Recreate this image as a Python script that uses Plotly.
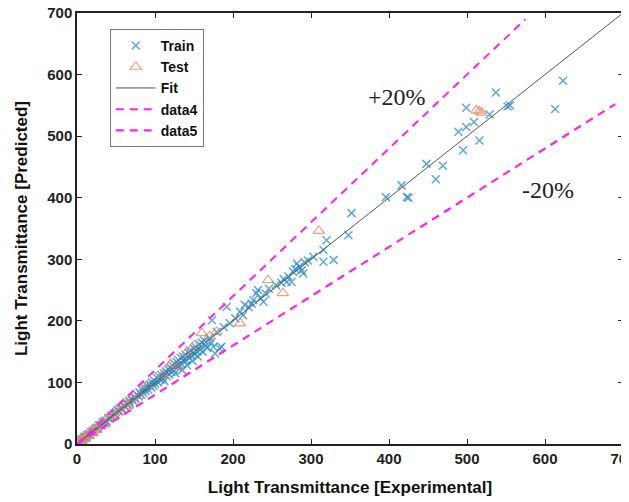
import plotly.graph_objects as go

# train points (experimental, predicted)
train_x = [3, 5, 6, 8, 9, 10, 12, 13, 15, 16, 18, 20, 21, 23, 25, 27, 28, 30, 32, 33,
           35, 37, 38, 40, 42, 44, 45, 47, 49, 50, 52, 54, 56, 58, 60, 62, 63, 65, 67, 68,
           70, 72, 74, 75, 77, 79, 80, 82, 84, 85, 87, 88, 90, 91, 93, 95, 96, 98, 99, 100,
           102, 104, 105, 107, 108, 110, 111, 112, 114, 115, 117, 118, 120, 121, 122, 124, 125, 126, 128, 129,
           130, 131, 133, 134, 135, 136, 138, 139, 140, 141, 143, 144, 145, 147, 148, 150, 151, 152, 154, 155,
           157, 158, 160, 161, 163, 165, 167, 170, 172, 175, 177, 179, 183, 185, 188, 192, 196, 203, 209, 213,
           215, 173, 220, 224, 226, 230, 232, 235, 239, 242, 246, 255, 262, 265, 269, 271, 275, 277, 280, 282,
           285, 288, 290, 292, 296, 303, 316, 316, 329, 320, 348, 352, 396, 416, 423, 425, 448, 460, 469, 489,
           495, 499, 499, 509, 516, 529, 537, 552, 555, 613, 623]
train_y = [4, 5, 8, 7, 10, 12, 11, 14, 16, 15, 19, 21, 19, 24, 26, 25, 30, 31, 30, 35,
           36, 38, 36, 42, 41, 46, 44, 49, 48, 52, 55, 53, 58, 57, 62, 60, 66, 64, 70, 66,
           73, 70, 76, 73, 80, 77, 84, 80, 88, 83, 90, 86, 94, 89, 96, 92, 100, 95, 103, 98,
           108, 100, 110, 104, 112, 106, 115, 102, 118, 110, 121, 113, 124, 117, 128, 120, 130, 115, 133, 125,
           136, 127, 140, 130, 120, 142, 134, 145, 136, 128, 148, 140, 152, 143, 135, 155, 146, 158, 150, 142,
           162, 153, 165, 150, 168, 160, 156, 172, 165, 158, 147, 182, 155, 158, 190, 223, 196, 204, 215, 209,
           226, 201, 222, 228, 234, 245, 250, 237, 231, 244, 252, 258, 262, 268, 263, 272, 263, 280, 284, 293,
           288, 282, 277, 295, 298, 304, 315, 296, 299, 331, 339, 375, 401, 420, 401, 400, 455, 430, 452, 507,
           477, 515, 546, 523, 493, 535, 571, 548, 550, 544, 590]

# test points
test_x = [5, 8, 10, 12, 15, 18, 20, 22, 25, 30, 35, 40, 45, 50, 55, 60, 65, 70, 80, 90,
          110, 120, 130, 140, 150, 160, 170, 179, 209, 245, 264, 310, 512, 516, 519]
test_y = [6, 9, 8, 14, 13, 20, 18, 25, 23, 33, 32, 44, 48, 55, 52, 66, 62, 74, 78, 95,
          112, 130, 125, 148, 160, 180, 175, 182, 196, 266, 245, 346, 542, 540, 538]

fit_x = [0, 700]
fit_y = [0, 700]
upper_x = [0, 575]
upper_y = [0, 690]
lower_x = [0, 690]
lower_y = [0, 552]

fig = go.Figure()
fig.add_trace(go.Scatter(x=train_x, y=train_y, mode="markers", name="Train",
                         marker=dict(symbol="x-thin-open", size=8, color="#2a8bc8", opacity=0.75,
                                     line=dict(width=1.5, color="#2a8bc8"))))
fig.add_trace(go.Scatter(x=test_x, y=test_y, mode="markers", name="Test",
                         marker=dict(symbol="triangle-up-open", size=10, color="#e58a68", opacity=0.8,
                                     line=dict(width=1.2))))
fig.add_trace(go.Scatter(x=fit_x, y=fit_y, mode="lines", name="Fit",
                         line=dict(color="#555555", width=1)))
fig.add_trace(go.Scatter(x=upper_x, y=upper_y, mode="lines", name="data4",
                         line=dict(color="#ff22ee", width=2, dash="8px,6px")))
fig.add_trace(go.Scatter(x=lower_x, y=lower_y, mode="lines", name="data5",
                         line=dict(color="#ff22ee", width=2.2, dash="8px,6px")))

fig.add_annotation(x=410, y=563, text="+20%", showarrow=False,
                   font=dict(family="Liberation Serif", size=24, color="#222"))
fig.add_annotation(x=604, y=412, text="-20%", showarrow=False,
                   font=dict(family="Liberation Serif", size=24, color="#222"))

axis = dict(range=[0, 700], dtick=100, showgrid=False, zeroline=False, showline=True,
            linecolor="#222", linewidth=1.5, mirror="ticks", ticks="inside", ticklen=5,
            tickcolor="#222", automargin=False, ticklabeloverflow="allow",
            tickfont=dict(family="Liberation Sans", size=15, color="#222", weight="bold"))

fig.update_xaxes(**axis, title=dict(text="Light Transmittance [Experimental]",
                                    font=dict(family="Liberation Sans", size=17, color="#111", weight="bold")))
fig.update_yaxes(**axis, title=dict(text="Light Transmittance [Predicted]",
                                    font=dict(family="Liberation Sans", size=17, color="#111", weight="bold")))

# page has an 8px body margin, so the margins are shifted to land the axes where the reference has them
fig.update_layout(width=629, height=502, template="plotly_white",
                  margin=dict(l=69, r=14, t=5, b=66),
                  paper_bgcolor="white", plot_bgcolor="white",
                  legend=dict(x=0.06, y=0.963, xanchor="left", yanchor="top",
                              bgcolor="white", bordercolor="#777", borderwidth=1,
                              font=dict(family="Liberation Sans", size=14, color="#111", weight="bold"),
                              tracegroupgap=0, itemwidth=40))

fig.write_html("out.html")
